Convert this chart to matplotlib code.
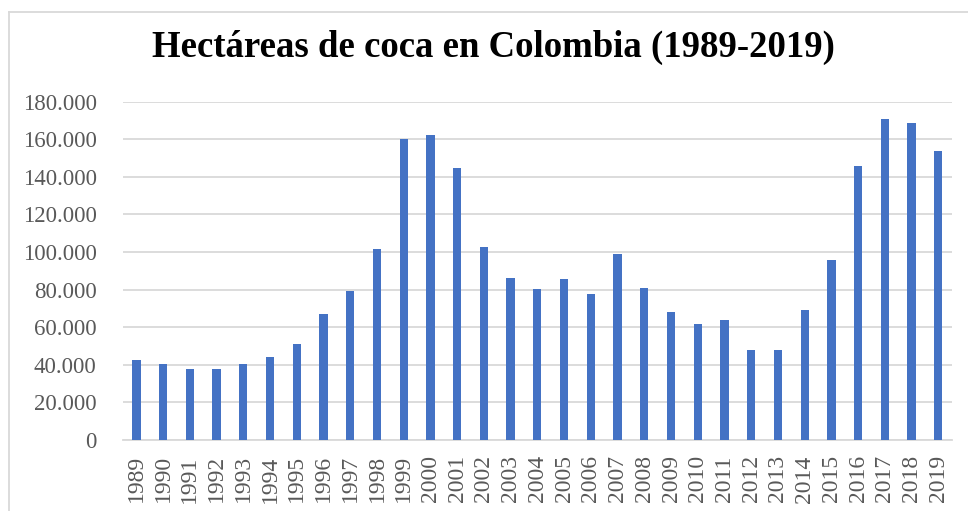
import matplotlib
matplotlib.use("Agg")
import matplotlib.pyplot as plt
from matplotlib.lines import Line2D
from matplotlib.ticker import FuncFormatter

years = [str(y) for y in range(1989, 2020)]
hectares = [42500, 40200, 37600, 37900, 40200, 44300, 50900, 67200, 79200, 101600,
            159900, 162200, 144500, 102600, 86200, 80300, 85600, 77800, 98900, 80900,
            67900, 61700, 63700, 47900, 47900, 69000, 95700, 145900, 170700, 168600, 153700]
yticks = [0, 20000, 40000, 60000, 80000, 100000, 120000, 140000, 160000, 180000]

W, H = 968, 511
fig = plt.figure(figsize=(W / 100, H / 100), dpi=100)
ax = fig.add_axes([123 / W, 71 / H, (951.7 - 123) / W, (440 - 101.7) / H])

x = list(range(len(years)))
ax.bar(x, hectares, width=0.31, color="#4472C4", zorder=3)

ax.set_xlim(-0.5, len(years) - 0.5)
ax.set_ylim(0, 180000)
ax.set_yticks(yticks)
ax.yaxis.set_major_formatter(FuncFormatter(lambda v, p: f"{int(v):,}".replace(",", ".")))
ax.set_xticks(x)
ax.set_xticklabels(years, rotation=90)
ax.grid(axis="y", color="#D9D9D9", linewidth=1.3, zorder=0)
for s in ["top", "right", "left"]:
    ax.spines[s].set_visible(False)
ax.spines["bottom"].set_color("#D9D9D9")
ax.spines["bottom"].set_linewidth(1.3)
ax.tick_params(axis="both", length=0, colors="#595959", labelsize=16.5)
ax.tick_params(axis="x", labelsize=17)
ax.tick_params(axis="y", pad=19)
ax.tick_params(axis="x", pad=11)
for lab in ax.get_xticklabels() + ax.get_yticklabels():
    lab.set_fontfamily("Liberation Serif")

fig.text(493 / W, 1 - 47 / H, "Hectáreas de coca en Colombia (1989-2019)",
         ha="center", va="center", fontsize=26.5, fontweight="bold",
         family="Liberation Serif", color="black")

# chart border (partially cropped)
fig.add_artist(Line2D([9 / W, 9 / W], [0, 1 - 12 / H], transform=fig.transFigure,
                      color="#D9D9D9", linewidth=1.3))
fig.add_artist(Line2D([9 / W, 1], [1 - 12 / H, 1 - 12 / H], transform=fig.transFigure,
                      color="#D9D9D9", linewidth=1.3))

fig.savefig("out.png", dpi=100)
